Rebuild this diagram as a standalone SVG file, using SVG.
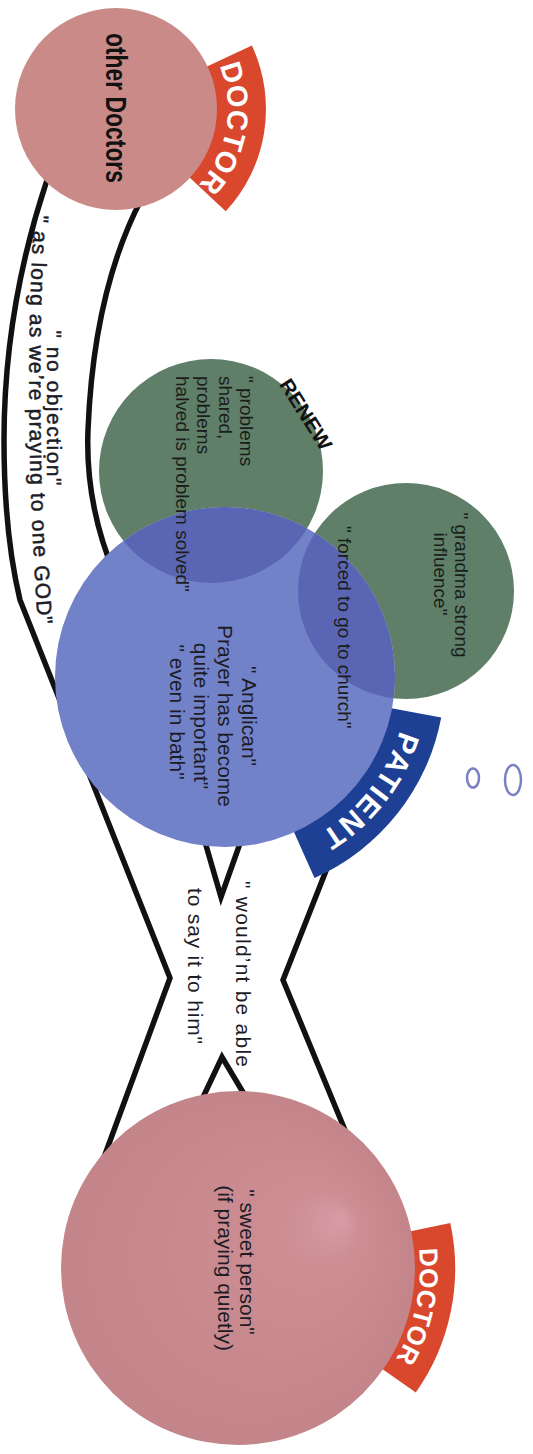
<svg xmlns="http://www.w3.org/2000/svg" width="533" height="1454" viewBox="0 0 533 1454">
<defs>
<style>
.conn{fill:none;stroke:#111;stroke-width:5.5;stroke-linejoin:miter}
.sans{font-family:"Liberation Sans",Arial,sans-serif}
.q{font-family:"Liberation Sans",Arial,sans-serif;font-size:21px;fill:#1c1c26}
.gt{font-family:"Liberation Sans",Arial,sans-serif;font-size:19px;fill:#1a1d1a}
.tab{font-family:"Liberation Sans",Arial,sans-serif;font-weight:bold;fill:#ffffff}
.green{fill:#5f7f69}
.ov{fill:#5a66b4}
.red{fill:#d9482d}
.med{stroke:#1c1c26;stroke-width:0.5}
.mark{fill:none;stroke:#7b80c2;stroke-width:2.5}
</style>
<radialGradient id="pinkHi" cx="0.5" cy="0.5" r="0.5" fx="0.8" fy="0.36">
<stop offset="0" stop-color="#d79ca5"/>
<stop offset="0.22" stop-color="#cc8d93"/>
<stop offset="1" stop-color="#c4858a"/>
</radialGradient>
<clipPath id="outP"><path clip-rule="evenodd" d="M0,0H533V1454H0Z M55,677a170,170 0 1,0 340,0a170,170 0 1,0 -340,0Z"/></clipPath>
<clipPath id="inP"><circle cx="225" cy="677" r="170"/></clipPath>
<path id="arcTop" d="M201.8,37 A112,112 0 0 1 172,206"/>
<path id="arcPat" d="M404,639 A183,183 0 0 1 231.4,859.9"/>
<path id="arcBot" d="M381.4,1155.9 A182,182 0 0 1 323.4,1428.7"/>
<path id="curveGod" d="M34,215 Q22,430 40,650"/>
</defs>
<rect width="533" height="1454" fill="#ffffff"/>

<g id="connectors">
<path class="conn" d="M47,180 C22,255 4,340 4,440 C4,500 8,550 20,600 L170,978 L103,1160"/>
<path class="conn" d="M142,198 C112,255 92,330 88,430 C86,480 96,530 115,575"/>
<path class="conn" d="M331,858 L283,980 L347,1135"/>
<path class="conn" d="M203,835 L221,897 L243,835"/>
<path class="conn" d="M197,1110 L222,1057 L250,1104"/>
<text class="q med" transform="translate(47,408) rotate(90)" text-anchor="middle" font-size="22" textLength="155">" no objection"</text>
<text class="q med" font-size="22" letter-spacing="1.2"><textPath href="#curveGod">" as long as we’re praying to one GOD"</textPath></text>
<text class="q" transform="translate(236,974) rotate(90)" text-anchor="middle" textLength="186">" would’nt be able</text>
<text class="q" transform="translate(188,966) rotate(90)" text-anchor="middle" textLength="156">to say it to him"</text>
</g>

<g id="patient">
<path fill="#1d3f94" d="M390.1,707.9 L441.2,717.5 A220,220 0 0 1 314.5,878 L293.3,830.5 Z"/>
<circle cx="225" cy="677" r="170" fill="#7282c8"/>
<text class="tab" font-size="30" letter-spacing="1.5"><textPath href="#arcPat" startOffset="50%" text-anchor="middle">PATIENT</textPath></text>
<text class="q" transform="translate(242,716) rotate(90)" text-anchor="middle"><tspan x="0" y="0">" Anglican"</tspan><tspan x="0" y="24">Prayer has become</tspan><tspan x="0" y="48">quite important"</tspan><tspan x="-4" y="72">" even in bath"</tspan></text>
</g>

<g id="renew">
<circle class="green" cx="211" cy="471" r="112" clip-path="url(#outP)"/>
<circle class="ov" cx="211" cy="471" r="112" clip-path="url(#inP)"/>
<text class="sans" transform="translate(300,418) rotate(57.7)" text-anchor="middle" font-size="20" font-weight="bold" fill="#111" textLength="80" lengthAdjust="spacingAndGlyphs">RENEW</text>
<text class="gt" transform="translate(240,376) rotate(90)"><tspan x="0" y="0">" problems</tspan><tspan x="0" y="21.5">shared,</tspan><tspan x="0" y="43">problems</tspan><tspan x="0" y="64.5">halved is problem solved"</tspan></text>
</g>

<g id="grandma">
<circle class="green" cx="406" cy="591" r="108" clip-path="url(#outP)"/>
<circle class="ov" cx="406" cy="591" r="108" clip-path="url(#inP)"/>
<text class="gt" transform="translate(455,580) rotate(90)" text-anchor="middle"><tspan x="5" y="0">" grandma strong</tspan><tspan x="-6" y="21">influence"</tspan></text>
<text class="gt" font-size="17.5" transform="translate(338,526) rotate(90)">" forced to go to church"</text>
</g>

<g id="other-doctors">
<path class="red" d="M204.8,67.6 L251.9,45.6 A150,150 0 0 1 225.7,211.3 L187.7,175.8 A98,98 0 0 0 204.8,67.6 Z"/>
<circle cx="116" cy="109" r="101" fill="#c98a88"/>
<text class="tab" font-size="29" letter-spacing="0.5"><textPath href="#arcTop" startOffset="50%" text-anchor="middle">DOCTOR</textPath></text>
<text class="sans" transform="translate(106,108) rotate(90)" text-anchor="middle" font-size="30" font-weight="bold" fill="#111" textLength="150" lengthAdjust="spacingAndGlyphs">other Doctors</text>
</g>

<g id="doctor">
<path class="red" d="M408.2,1231.8 L450.3,1222.9 A215,215 0 0 1 415.8,1392.5 L380.5,1367.8 Z"/>
<circle cx="238" cy="1268" r="177" fill="url(#pinkHi)"/>
<text class="tab" font-size="26" letter-spacing="0.5"><textPath href="#arcBot" startOffset="50%" text-anchor="middle">DOCTOR</textPath></text>
<text class="q" font-size="22" transform="translate(240,1264) rotate(90)" text-anchor="middle"><tspan x="-2" y="0">" sweet person"</tspan><tspan x="4" y="22">(if praying quietly)</tspan></text>
</g>

<g id="marks">
<ellipse class="mark" cx="473" cy="778" rx="6" ry="9.5"/>
<ellipse class="mark" cx="513" cy="780" rx="8" ry="15"/>
</g>
</svg>
